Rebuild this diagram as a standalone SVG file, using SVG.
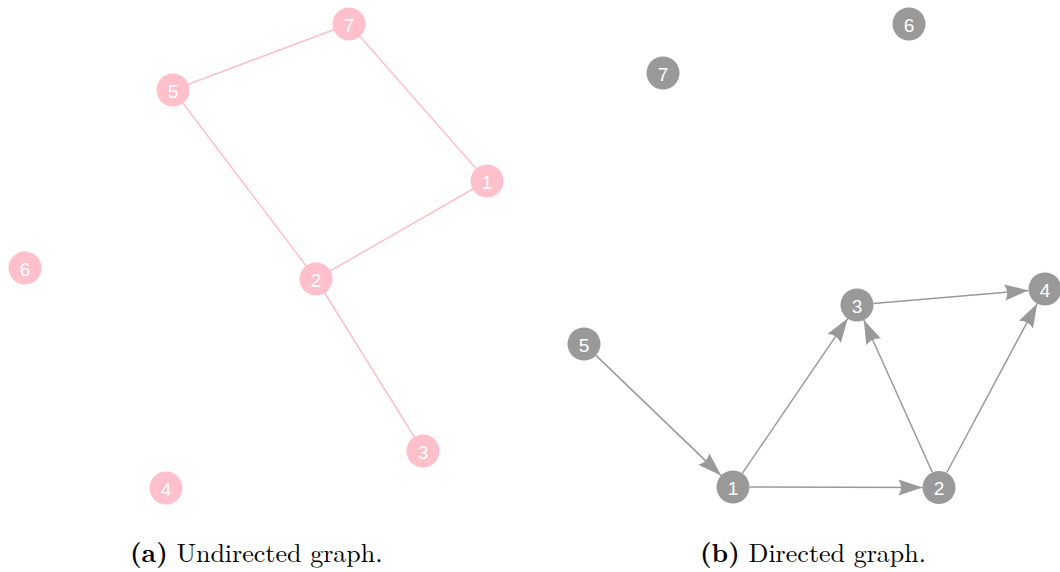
<svg xmlns="http://www.w3.org/2000/svg" width="1060" height="572" viewBox="0 0 1060 572">
  <style>
    .pink circle { fill: #FFC0CB; }
    .grey circle { fill: #999999; }
    .lbl { font-family: "Liberation Sans", Arial, sans-serif; font-size: 19px; fill: #ffffff; text-anchor: middle; dominant-baseline: central; }
    .uedge { stroke: #FFC0CB; stroke-width: 1.5; fill: none; }
    .dedge { stroke: #999999; stroke-width: 1.5; fill: none; marker-end: url(#arrow); }
    .cap { font-family: "Latin Modern Roman", "Liberation Serif", "Times New Roman", serif; font-size: 26px; fill: #000000; }
  </style>
  <defs>
    <marker id="arrow" markerUnits="userSpaceOnUse" markerWidth="26" markerHeight="18" refX="24" refY="8" orient="auto">
      <path d="M0,0 L24,8 L0,16 Q5,8 0,0 Z" fill="#999999"/>
    </marker>
  </defs>
  <rect width="1060" height="572" fill="#ffffff"/>

  <!-- (a) undirected graph -->
  <g id="edges-a">
    <line class="uedge" x1="349" y1="24" x2="173" y2="90"/>
    <line class="uedge" x1="349" y1="24" x2="487" y2="181"/>
    <line class="uedge" x1="173" y1="90" x2="316" y2="279"/>
    <line class="uedge" x1="316" y1="279" x2="487" y2="181"/>
    <line class="uedge" x1="316" y1="279" x2="423" y2="451"/>
  </g>
  <g class="pink">
    <g id="a-node-1"><circle cx="487" cy="181" r="16.5"/><text class="lbl" x="487" y="182">1</text></g>
    <g id="a-node-2"><circle cx="316" cy="279" r="16.5"/><text class="lbl" x="316" y="280">2</text></g>
    <g id="a-node-3"><circle cx="423" cy="451" r="16.5"/><text class="lbl" x="423" y="452">3</text></g>
    <g id="a-node-4"><circle cx="166" cy="488" r="16.5"/><text class="lbl" x="166" y="489">4</text></g>
    <g id="a-node-5"><circle cx="173" cy="90" r="16.5"/><text class="lbl" x="173" y="91">5</text></g>
    <g id="a-node-6"><circle cx="25" cy="268" r="16.5"/><text class="lbl" x="25" y="269">6</text></g>
    <g id="a-node-7"><circle cx="349" cy="24" r="16.5"/><text class="lbl" x="349" y="25">7</text></g>
  </g>

  <!-- (b) directed graph -->
  <g id="edges-b">
    <line class="dedge" x1="595.9" y1="355.4" x2="721.1" y2="475.6"/>
    <line class="dedge" x1="742.3" y1="473.4" x2="847.7" y2="318.6"/>
    <line class="dedge" x1="749.5" y1="487" x2="922.5" y2="487.5"/>
    <line class="dedge" x1="932.2" y1="472" x2="863.8" y2="320"/>
    <line class="dedge" x1="946.8" y1="472.5" x2="1037.2" y2="303.5"/>
    <line class="dedge" x1="873.4" y1="303.6" x2="1028.6" y2="290.4"/>
  </g>
  <g class="grey">
    <g id="b-node-1"><circle cx="733" cy="487" r="16.5"/><text class="lbl" x="733" y="488">1</text></g>
    <g id="b-node-2"><circle cx="939" cy="487.5" r="16.5"/><text class="lbl" x="939" y="488.5">2</text></g>
    <g id="b-node-3"><circle cx="857" cy="305" r="16.5"/><text class="lbl" x="857" y="306">3</text></g>
    <g id="b-node-4"><circle cx="1045" cy="289" r="16.5"/><text class="lbl" x="1045" y="290">4</text></g>
    <g id="b-node-5"><circle cx="584" cy="344" r="16.5"/><text class="lbl" x="584" y="345">5</text></g>
    <g id="b-node-6"><circle cx="909" cy="24" r="16.5"/><text class="lbl" x="909" y="25">6</text></g>
    <g id="b-node-7"><circle cx="663" cy="73" r="16.5"/><text class="lbl" x="663" y="74">7</text></g>
  </g>

  <!-- captions -->
  <text class="cap" x="130" y="562"><tspan font-weight="bold">(a)</tspan> Undirected graph.</text>
  <text class="cap" x="700" y="562"><tspan font-weight="bold">(b)</tspan> Directed graph.</text>
</svg>
